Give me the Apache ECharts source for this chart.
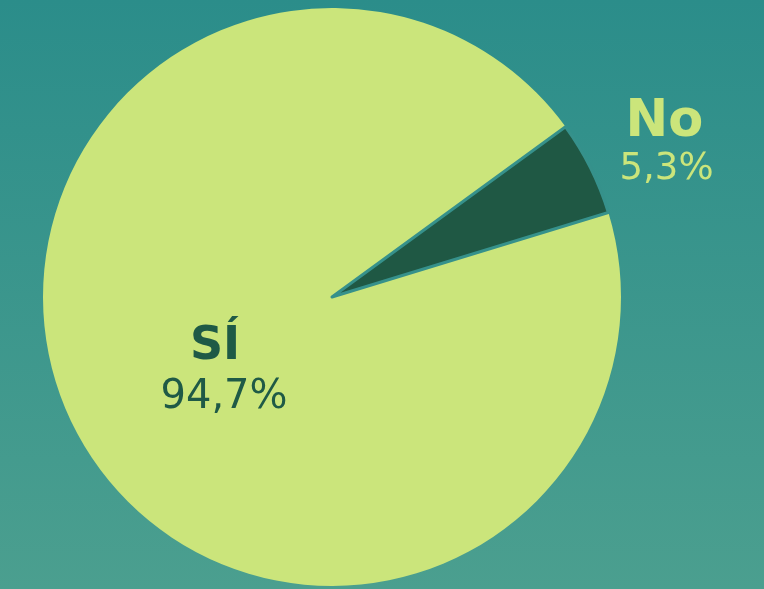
<!DOCTYPE html>
<html>
<head>
<meta charset="utf-8">
<script src="https://cdn.jsdelivr.net/npm/echarts@6/dist/echarts.min.js"></script>
<style>
html,body{margin:0;padding:0;}
#chart{width:764px;height:589px;}
</style>
</head>
<body>
<div id="chart"></div>
<script>
// datos de la encuesta
var categorias=['SÍ','No'];
var valores=[94.7,5.3];
var etiquetas=['94,7%','5,3%'];

var colores=['#cbe57b','#1f5844'];

var chart=echarts.init(document.getElementById('chart'));

var datos=[];
for(var i=0;i<categorias.length;i++){
	datos.push({
		name:categorias[i],
		value:valores[i],
		pct:etiquetas[i],
		itemStyle:{color:colores[i]}
	});
}

var option={
	backgroundColor:new echarts.graphic.LinearGradient(0,0,0,1,[
		{offset:0,color:'#2b8d8a'},
		{offset:1,color:'#4b9f8f'}
	]),
	animation:false,
	series:[
		{
			type:'pie',
			center:[332,297],
			radius:289,
			startAngle:17,
			clockwise:true,
			data:datos,
			labelLine:{show:false,length:0,length2:24},
			label:{
				fontFamily:'DejaVu Sans',
				formatter:function(p){
					if(p.name=='No'){
						return '{a|'+p.name+'}\n{b|'+p.data.pct+'}';
					}
					return '{c|'+p.name+'}\n{d|'+p.data.pct+'}';
				},
				rich:{
					a:{fontFamily:'DejaVu Sans',fontSize:51,fontWeight:'bold',color:'#cbe57b',lineHeight:54,padding:[0,0,0,6]},
					b:{fontFamily:'DejaVu Sans',fontSize:37,color:'#cbe57b',lineHeight:40},
					c:{fontFamily:'DejaVu Sans',fontSize:46,fontWeight:'bold',color:'#1f5a46',lineHeight:58,padding:[0,18,0,0]},
					d:{fontFamily:'DejaVu Sans',fontSize:40,color:'#1f5a46',lineHeight:44}
				}
			},
			labelLayout:function(p){
				if(p.dataIndex==1){
					return {dy:-25};
				}
				return {dx:24,dy:6};
			}
		}
	]
};
// borde solo en el sector del no
option.series[0].data[1].itemStyle.borderColor='#36918b';
option.series[0].data[1].itemStyle.borderWidth=3;
// etiqueta del sí dentro del sector
option.series[0].data[0].label={position:'inside'};
chart.setOption(option);
</script>
</body>
</html>
